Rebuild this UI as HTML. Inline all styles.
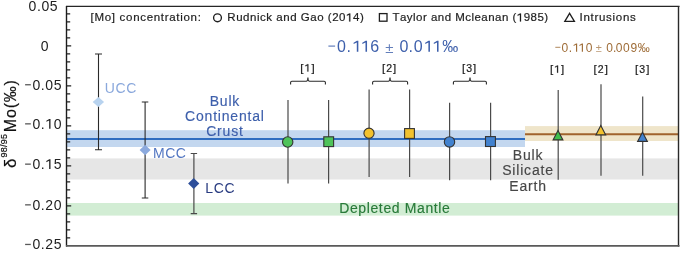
<!DOCTYPE html>
<html><head><meta charset="utf-8">
<style>
html,body{margin:0;padding:0;background:#fff;width:685px;height:254px;overflow:hidden}
svg{display:block;will-change:transform}
text{font-family:"Liberation Sans",sans-serif}
</style></head>
<body>
<svg width="685" height="254" viewBox="0 0 685 254">
<!-- bands -->
<rect x="67" y="158.4" width="611" height="21.1" fill="#e6e6e6"/>
<rect x="67" y="203" width="611" height="12.6" fill="#d2edd4"/>
<rect x="67" y="130.2" width="458" height="16.8" fill="#c3d7ef"/>
<rect x="525" y="126.1" width="153" height="14.9" fill="#efe5ca"/>
<line x1="67" y1="139" x2="525" y2="139" stroke="#2f6dc0" stroke-width="2"/>
<line x1="525" y1="134.2" x2="678" y2="134.2" stroke="#a0632d" stroke-width="2"/>
<!-- frame -->
<path d="M66 6.4 H679.5" stroke="#262626" stroke-width="1.2"/>
<path d="M66.5 6 V246.6" stroke="#1c1c1c" stroke-width="1.4"/>
<path d="M678.5 6 V246.6" stroke="#2a2a2a" stroke-width="1.4"/>
<path d="M66 245.9 H679.5" stroke="#5a5a5a" stroke-width="1.6"/>
<path d="M67 13.8 H70.2 M67 21.8 H70.2 M67 29.8 H70.2 M67 37.8 H70.2 M67 45.8 H71.2 M67 53.8 H70.2 M67 61.8 H70.2 M67 69.8 H70.2 M67 77.8 H70.2 M67 85.8 H71.2 M67 93.8 H70.2 M67 101.8 H70.2 M67 109.8 H70.2 M67 117.8 H70.2 M67 125.8 H71.2 M67 133.8 H70.2 M67 141.8 H70.2 M67 149.8 H70.2 M67 157.8 H70.2 M67 165.8 H71.2 M67 173.8 H70.2 M67 181.8 H70.2 M67 189.8 H70.2 M67 197.8 H70.2 M67 205.8 H71.2 M67 213.8 H70.2 M67 221.8 H70.2 M67 229.8 H70.2 M67 237.8 H70.2" stroke="#222" stroke-width="1.2"/>
<!-- tick labels -->
<text x="28.55 36.94 41.43 49.81" y="10.8" font-size="14" fill="#222" >0.05</text>
<text x="40.81" y="50.8" font-size="14" fill="#222" >0</text>
<rect x="25.1" y="84.1" width="5.7" height="1.3" fill="#5a5a5a"/><text x="32.45 40.84 45.33 53.71" y="89.6" font-size="14" fill="#222" >0.05</text>
<rect x="25.1" y="123.2" width="5.7" height="1.3" fill="#5a5a5a"/><text x="32.45 40.84 53.71" y="128.7" font-size="14" fill="#222" >0.0</text><path d="M49.16 128.70 L49.16 120.57 L46.35 121.86 L46.35 120.70 L49.26 119.07 L50.50 119.07 L50.50 128.70Z" fill="#222" />
<rect x="25.1" y="163.5" width="5.7" height="1.3" fill="#5a5a5a"/><text x="32.45 40.84 53.71" y="169" font-size="14" fill="#222" >0.5</text><path d="M49.16 169.00 L49.16 160.87 L46.35 162.16 L46.35 161.00 L49.26 159.37 L50.50 159.37 L50.50 169.00Z" fill="#222" />
<rect x="25.1" y="204.2" width="5.7" height="1.3" fill="#5a5a5a"/><text x="32.45 40.84 45.33 53.71" y="209.7" font-size="14" fill="#222" >0.20</text>
<rect x="25.1" y="243.8" width="5.7" height="1.3" fill="#5a5a5a"/><text x="32.45 40.84 45.33 53.71" y="249.3" font-size="14" fill="#222" >0.25</text>
<g transform="rotate(-90)" fill="#111" stroke="#111" stroke-width="0.2">
<text x="-167.9" y="15.9" font-size="17">δ</text>
<text x="-157.5" y="7.4" font-size="9" letter-spacing="0.22">98/95</text>
<text x="-132.2" y="15.8" font-size="16" letter-spacing="0.8">Mo(‰)</text>
</g>
<!-- legend -->
<text x="90.60 94.49 104.75 111.84 119.61 126.05 133.14 140.22 146.66 153.75 160.83 164.72 169.24 176.32 180.21 183.45 190.54 197.63" y="21.4" font-size="11.5" fill="#1e1e1e" stroke="#1e1e1e" stroke-width="0.2">[Mo]concentration:</text>
<circle cx="217.5" cy="17.8" r="3.9" fill="none" stroke="#1e1e1e" stroke-width="1.35"/>
<text x="227.30 236.13 243.06 249.99 256.91 260.00 266.28 276.28 283.21 290.13 300.78 310.26 317.19 327.84 332.20 339.12 352.97 359.90" y="21.4" font-size="11.5" fill="#1e1e1e" stroke="#1e1e1e" stroke-width="0.2">RudnickandGao(204)</text><path d="M349.19 21.40 L349.19 14.72 L346.89 15.78 L346.89 14.83 L349.28 13.49 L350.30 13.49 L350.30 21.40Z" fill="#1e1e1e" stroke="#1e1e1e" stroke-width="0.2"/>
<rect x="379.4" y="13.6" width="7.6" height="7.6" fill="none" stroke="#1e1e1e" stroke-width="1.3"/>
<text x="392.50 399.99 406.86 413.08 416.11 422.97 430.94 437.80 444.67 455.20 465.25 471.47 474.49 481.36 488.22 495.09 501.96 512.49 523.65 530.52 537.38 544.25" y="21.4" font-size="11.5" fill="#1e1e1e" stroke="#1e1e1e" stroke-width="0.2">TaylorandMcleanan(985)</text><path d="M519.93 21.40 L519.93 14.72 L517.63 15.78 L517.63 14.83 L520.01 13.49 L521.04 13.49 L521.04 21.40Z" fill="#1e1e1e" stroke="#1e1e1e" stroke-width="0.2"/>
<path d="M569.6 13.3 L574.4 21.3 L564.8 21.3 Z" fill="none" stroke="#1e1e1e" stroke-width="1.3"/>
<text x="579.60 583.50 590.59 594.49 599.02 606.11 612.56 615.82 622.91 630.01" y="21.4" font-size="11.5" fill="#1e1e1e" stroke="#1e1e1e" stroke-width="0.2">Intrusions</text>
<!-- values -->
<rect x="328.4" y="45.5" width="6.7" height="1.2" fill="#3d5fab" opacity="0.8"/>
<text x="337.07 346.44 370.19" y="51.8" font-size="16" fill="#3d5fab" >0.6</text><path d="M356.80 51.80 L356.80 42.50 L353.60 43.99 L353.60 42.66 L356.92 40.79 L358.34 40.79 L358.34 51.80Z" fill="#3d5fab" /><path d="M365.50 51.80 L365.50 42.50 L362.30 43.99 L362.30 42.66 L365.62 40.79 L367.04 40.79 L367.04 51.80Z" fill="#3d5fab" />
<text x="385.22" y="52.6" font-size="15" fill="#3d5fab" opacity="0.8">±</text>
<text x="399.48 408.54 413.68 442.17" y="51.8" font-size="16" fill="#3d5fab" >0.0‰</text><path d="M428.40 51.80 L428.40 42.50 L425.20 43.99 L425.20 42.66 L428.52 40.79 L429.94 40.79 L429.94 51.80Z" fill="#3d5fab" /><path d="M437.00 51.80 L437.00 42.50 L433.80 43.99 L433.80 42.66 L437.12 40.79 L438.54 40.79 L438.54 51.80Z" fill="#3d5fab" />
<rect x="555.3" y="46.8" width="5.1" height="1" fill="#9e6c37" opacity="0.8"/>
<text x="561.43 568.80 585.83" y="51.8" font-size="12" fill="#9e6c37" >0.0</text><path d="M576.00 51.80 L576.00 44.83 L573.60 45.94 L573.60 44.94 L576.09 43.54 L577.16 43.54 L577.16 51.80Z" fill="#9e6c37" /><path d="M581.80 51.80 L581.80 44.83 L579.40 45.94 L579.40 44.94 L581.89 43.54 L582.96 43.54 L582.96 51.80Z" fill="#9e6c37" />
<text x="595.85" y="52.4" font-size="11" fill="#9e6c37" opacity="0.7">±</text>
<text x="606.33 612.90 615.83 623.03 630.54 637.68" y="51.8" font-size="12" fill="#9e6c37" >0.009‰</text>
<!-- bracket labels -->
<text x="300.30 311.40" y="71.5" font-size="11.5" fill="#1e1e1e" stroke="#1e1e1e" stroke-width="0.2">[]</text><path d="M307.37 71.50 L307.37 65.40 L305.27 66.37 L305.27 65.50 L307.45 64.28 L308.38 64.28 L308.38 71.50Z" fill="#1e1e1e" stroke="#1e1e1e" stroke-width="0.2"/>
<text x="382.00 393.10" y="71.5" font-size="11.5" fill="#1e1e1e" stroke="#1e1e1e" stroke-width="0.2">[]</text><text x="386.20" y="71.5" font-size="10.5" fill="#1e1e1e" stroke="#1e1e1e" stroke-width="0.2">2</text>
<text x="462.00 473.10" y="71.5" font-size="11.5" fill="#1e1e1e" stroke="#1e1e1e" stroke-width="0.2">[]</text><text x="466.20" y="71.5" font-size="10.5" fill="#1e1e1e" stroke="#1e1e1e" stroke-width="0.2">3</text>
<text x="550.00 561.10" y="72.7" font-size="11.5" fill="#1e1e1e" stroke="#1e1e1e" stroke-width="0.2">[]</text><path d="M557.07 72.70 L557.07 66.60 L554.97 67.57 L554.97 66.70 L557.15 65.48 L558.08 65.48 L558.08 72.70Z" fill="#1e1e1e" stroke="#1e1e1e" stroke-width="0.2"/>
<text x="593.60 604.70" y="72.7" font-size="11.5" fill="#1e1e1e" stroke="#1e1e1e" stroke-width="0.2">[]</text><text x="597.80" y="72.7" font-size="10.5" fill="#1e1e1e" stroke="#1e1e1e" stroke-width="0.2">2</text>
<text x="635.10 646.20" y="72.7" font-size="11.5" fill="#1e1e1e" stroke="#1e1e1e" stroke-width="0.2">[]</text><text x="639.30" y="72.7" font-size="10.5" fill="#1e1e1e" stroke="#1e1e1e" stroke-width="0.2">3</text>
<g fill="none" stroke="#2a2a2a" stroke-width="1.1">
<path d="M290.6 84.6 V82.5 Q290.6 81.2 291.9 81.2 H306.3 Q307.9 81.2 307.9 77.6 Q307.9 81.2 309.5 81.2 H324.1 Q325.4 81.2 325.4 82.5 V84.6"/>
<path d="M372.6 84.6 V82.5 Q372.6 81.2 373.9 81.2 H388.4 Q390.0 81.2 390.0 77.6 Q390.0 81.2 391.6 81.2 H406.3 Q407.6 81.2 407.6 82.5 V84.6"/>
<path d="M453.4 84.6 V82.5 Q453.4 81.2 454.7 81.2 H468.4 Q470.0 81.2 470.0 77.6 Q470.0 81.2 471.6 81.2 H485.1 Q486.4 81.2 486.4 82.5 V84.6"/>
</g>
<!-- error bars -->
<g stroke="#4a4a4a" stroke-width="1.2" fill="none">
<path d="M98.5 54 V149.8 M95 54 H102 M95 149.8 H102" stroke="#2a2a2a" stroke-width="1.1"/>
<path d="M145.1 102 V198 M141.8 102 H148.3 M141.8 198 H148.3" stroke="#2a2a2a" stroke-width="1.1"/>
<path d="M193.9 153.5 V213.6 M190.7 153.5 H197.1 M190.7 213.6 H197.1"/>
<path d="M288 99.9 V183.4 M328.6 99.9 V183.4"/>
<path d="M369.1 89.4 V177 M409.6 89.4 V177"/>
<path d="M449.6 102.7 V180.3 M490.6 102.7 V180.3"/>
<path d="M558.2 90 V179.8 M601 84.3 V175.8 M642.7 96.6 V175.8"/>
</g>
<!-- markers -->
<path d="M98.4 96.9 L104.1 102 L98.4 107.1 L92.7 102 Z" fill="#b8d3ef"/>
<path d="M145.1 144.8 L150.6 150 L145.1 155.2 L139.6 150 Z" fill="#8caade"/>
<path d="M193.7 178.1 L199.3 183.5 L193.7 188.9 L188.1 183.5 Z" fill="#2e4f9a"/>
<g stroke="#333" stroke-width="1.1">
<circle cx="287.7" cy="142" r="5.2" fill="#4fc35a"/>
<rect x="323.8" y="136.8" width="9.8" height="9.8" fill="#4fc35a"/>
<circle cx="369" cy="133.2" r="5.1" fill="#f2c12e"/>
<rect x="404.6" y="128.6" width="9.8" height="9.8" fill="#f2c12e"/>
<circle cx="449.5" cy="141.9" r="5.2" fill="#4282cf"/>
<rect x="485.5" y="136.6" width="9.9" height="9.9" fill="#4282cf"/>
<path d="M558 130.5 L562.9 139.9 L553.1 139.9 Z" fill="#3fbe4c"/>
<path d="M600.8 125.4 L605.7 134.9 L595.9 134.9 Z" fill="#f2c12e"/>
<path d="M642.5 132.2 L647.4 141.4 L637.6 141.4 Z" fill="#4282cf"/>
</g>
<!-- labels -->
<g font-size="14" letter-spacing="0.6">
<text x="104.8" y="93.1" fill="#8aa8dc">UCC</text>
<text x="152.9" y="158" fill="#5377c2">MCC</text>
<text x="205.3" y="192.9" fill="#283b80">LCC</text>
</g>
<g font-size="14" fill="#3d5fab" stroke="#3d5fab" stroke-width="0.15" letter-spacing="0.8" text-anchor="middle">
<text x="224.9" y="105.8">Bulk</text>
<text x="224.9" y="121">Continental</text>
<text x="224.9" y="136.3">Crust</text>
</g>
<g font-size="14" fill="#474747" stroke="#474747" stroke-width="0.15" letter-spacing="0.8" text-anchor="middle">
<text x="528" y="159.9">Bulk</text>
<text x="528" y="175.1">Silicate</text>
<text x="528" y="190.7">Earth</text>
</g>
<text x="339.2" y="213.2" font-size="14" fill="#287a39" stroke="#287a39" stroke-width="0.15" letter-spacing="0.62">Depleted Mantle</text>
</svg>
</body></html>
